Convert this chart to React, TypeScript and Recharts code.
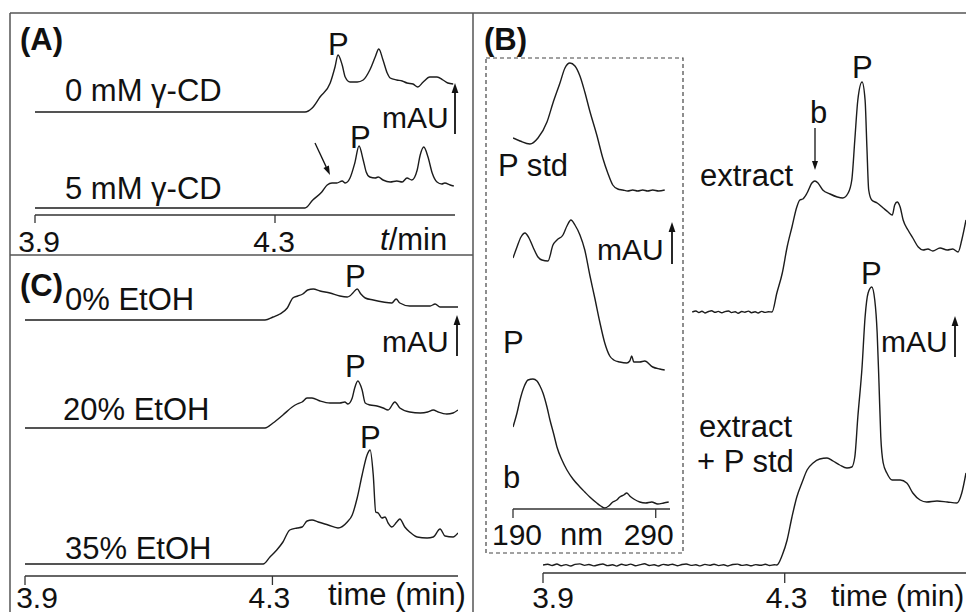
import { LineChart, Line, XAxis, YAxis } from "recharts";

const FONT = "'Liberation Sans', Arial, Helvetica, sans-serif";
const INK = "#1c1c1c";
const FRAME = "#555";

type Pair = [number, number];
type Pt = { t: number; v: number };
const toPts = (pairs: Pair[]): Pt[] => pairs.map(([t, v]) => ({ t, v }));

// ---- (A) gamma-CD, time (min) vs baseline-subtracted signal (a.u.)
const A_TICKS = [3.9, 4.3];
const A_0MM: Pair[] = [
  [3.9, 0], [4.35, 0], [4.362, 4], [4.375, 15], [4.392, 29], [4.4, 45], [4.405, 57], [4.412, 47],
  [4.417, 35], [4.425, 30], [4.437, 30], [4.447, 32], [4.458, 42], [4.467, 55], [4.473, 63], [4.48, 52],
  [4.487, 39], [4.492, 34], [4.503, 32], [4.512, 31], [4.52, 29], [4.53, 28], [4.538, 25], [4.547, 30],
  [4.558, 35], [4.57, 35], [4.58, 32], [4.588, 29], [4.597, 28],
];
const A_5MM: Pair[] = [
  [3.9, 0], [4.35, 0], [4.363, 8], [4.378, 16], [4.387, 23], [4.395, 25], [4.403, 25], [4.412, 27],
  [4.417, 25], [4.425, 30], [4.433, 45], [4.44, 62], [4.447, 48], [4.452, 36], [4.458, 31], [4.467, 30],
  [4.472, 31], [4.48, 28], [4.492, 26], [4.503, 27], [4.512, 26], [4.52, 30], [4.528, 28], [4.537, 38],
  [4.542, 53], [4.548, 61], [4.555, 51], [4.562, 35], [4.57, 26], [4.578, 24], [4.583, 25], [4.592, 23],
  [4.598, 22],
];

// ---- (C) EtOH
const C_TICKS = [3.9, 4.3];
const C_0: Pair[] = [
  [3.9, 0], [4.288, 0], [4.301, 3], [4.312, 6], [4.324, 12], [4.333, 22], [4.341, 24], [4.349, 26],
  [4.357, 30], [4.366, 31], [4.377, 29], [4.393, 27], [4.409, 24], [4.421, 23], [4.425, 24], [4.43, 27],
  [4.437, 31], [4.443, 26], [4.45, 22], [4.463, 20], [4.479, 18], [4.493, 17], [4.5, 21], [4.506, 17],
  [4.522, 14], [4.539, 14], [4.555, 14], [4.563, 16], [4.571, 13], [4.587, 13], [4.6, 13],
];
const C_20: Pair[] = [
  [3.9, 0], [4.288, 0], [4.301, 5], [4.317, 13], [4.332, 21], [4.34, 24], [4.348, 26], [4.356, 30],
  [4.364, 30], [4.377, 27], [4.393, 25], [4.409, 25], [4.417, 26], [4.422, 24], [4.429, 30], [4.433, 40],
  [4.438, 47], [4.445, 38], [4.45, 25], [4.458, 23], [4.469, 22], [4.479, 20], [4.487, 18], [4.498, 26],
  [4.506, 20], [4.522, 16], [4.539, 15], [4.551, 16], [4.56, 18], [4.568, 16], [4.582, 14], [4.592, 15],
  [4.6, 18],
];
const C_35: Pair[] = [
  [3.9, 0], [4.285, 0], [4.296, 7], [4.307, 14], [4.317, 22], [4.328, 34], [4.34, 36], [4.348, 37],
  [4.356, 43], [4.364, 44], [4.374, 42], [4.39, 39], [4.406, 36], [4.421, 42], [4.429, 49], [4.437, 66],
  [4.445, 89], [4.453, 109], [4.458, 114], [4.463, 89], [4.467, 52], [4.471, 51], [4.477, 46], [4.482, 47],
  [4.487, 41], [4.493, 37], [4.501, 42], [4.506, 45], [4.514, 37], [4.522, 32], [4.534, 27], [4.55, 26],
  [4.56, 27], [4.571, 35], [4.579, 28], [4.592, 27], [4.6, 31],
];

// ---- (B) extract / extract + P std
const B_TICKS = [3.9, 4.3];
const B_EXTRACT: Pair[] = [
  [4.147, 0], [4.153, 1], [4.158, -0.5], [4.163, 0.8], [4.168, -1], [4.174, 0.5], [4.179, 1.2],
  [4.185, -0.3], [4.19, 0.6], [4.196, -0.8], [4.201, 0.4], [4.207, 1], [4.212, -0.6], [4.218, 0.3],
  [4.223, -1.2], [4.229, 0.5], [4.234, -0.2], [4.24, 0.9], [4.245, -0.7], [4.251, 0.2], [4.256, -1],
  [4.262, 0.6], [4.267, -0.4], [4.273, 0.3], [4.279, 0],
  [4.287, 19], [4.296, 39], [4.304, 65], [4.312, 85], [4.32, 105], [4.325, 112], [4.33, 113],
  [4.337, 119], [4.345, 129], [4.35, 131], [4.355, 129], [4.363, 122], [4.375, 118], [4.387, 115],
  [4.396, 114], [4.405, 119], [4.411, 132], [4.416, 172], [4.421, 212], [4.428, 230], [4.433, 212],
  [4.436, 165], [4.439, 122], [4.444, 112], [4.453, 109], [4.463, 104], [4.471, 100], [4.478, 97],
  [4.482, 107], [4.486, 110], [4.491, 105], [4.496, 92], [4.504, 82], [4.512, 74], [4.521, 65],
  [4.529, 62], [4.537, 63], [4.545, 61], [4.557, 64], [4.569, 62], [4.578, 63], [4.587, 60],
  [4.593, 72], [4.6, 92],
];
const B_SPIKED: Pair[] = [
  [3.9, 0], [3.908, 0.8], [3.915, -0.5], [3.923, 1], [3.93, -0.7], [3.938, 0.4], [3.946, -1],
  [3.953, 0.6], [3.961, 1.1], [3.969, -0.4], [3.976, 0.5], [3.984, -0.9], [3.992, 0.3], [3.999, 1],
  [4.007, -0.6], [4.015, 0.2], [4.022, -1.1], [4.03, 0.7], [4.038, -0.3], [4.045, 0.9], [4.053, -0.8],
  [4.061, 0.4], [4.068, 1.2], [4.076, -0.5], [4.084, 0.3], [4.091, -1], [4.099, 0.6], [4.107, -0.2],
  [4.114, 0.8], [4.122, -0.7], [4.13, 0.5], [4.137, 1], [4.145, -0.4], [4.153, 0.2], [4.16, -0.9],
  [4.168, 0.6], [4.176, -0.3], [4.183, 0.8], [4.191, -0.6], [4.199, 0.3], [4.206, -1], [4.214, 0.5],
  [4.222, 0.9], [4.229, -0.4], [4.237, 0.2], [4.245, -0.8], [4.252, 0.4], [4.26, -0.3], [4.268, 0.7],
  [4.275, -0.5], [4.283, 0.2],
  [4.287, 0], [4.296, 10], [4.304, 25], [4.312, 48], [4.32, 68], [4.329, 83], [4.337, 95],
  [4.347, 102], [4.358, 106], [4.37, 107], [4.38, 104], [4.391, 100], [4.403, 97], [4.411, 98],
  [4.416, 108], [4.421, 148], [4.428, 198], [4.433, 248], [4.438, 272], [4.444, 278], [4.449, 265],
  [4.453, 232], [4.456, 182], [4.459, 128], [4.463, 102], [4.469, 92], [4.478, 85], [4.491, 85],
  [4.502, 82], [4.512, 72], [4.524, 65], [4.535, 63], [4.552, 64], [4.569, 63], [4.585, 62],
  [4.593, 72], [4.6, 92],
];

// ---- (B) inset: UV spectra, wavelength (nm) vs absorbance (a.u.)
const NM_TICKS = [190, 290];
const SPEC_PSTD: Pair[] = [
  [190, 53], [194.9, 50], [201.9, 47], [207.5, 53], [213.8, 69], [218, 88], [222.9, 108], [226.4, 123],
  [229.9, 128], [233.4, 125], [236.9, 115], [240.3, 99], [243.8, 80], [248.7, 56], [252.9, 33],
  [256.4, 18], [259.9, 6], [263.4, 2], [266.9, 1], [270.4, 0], [273.9, 1], [277.4, 0], [280.9, 1],
  [284.4, 0], [287.9, 1], [292, 0], [296.3, 1],
];
const SPEC_P: Pair[] = [
  [190, 112], [192.8, 123], [195.6, 133], [198.4, 137], [201.2, 132], [204, 123], [207.5, 113],
  [210.3, 110], [214.5, 109], [218, 125], [220.8, 130], [225, 135], [227.8, 144], [230.6, 150],
  [233.4, 145], [236.9, 135], [240.3, 120], [243.8, 95], [247.3, 72], [250.8, 48], [254.3, 27],
  [257.8, 14], [260.6, 10], [264.8, 8], [269.7, 7], [271.8, 9], [273.2, 14], [274.6, 8], [278.8, 8],
  [282.3, 9], [287.9, 3], [292.8, 1], [296.3, 0],
];
const SPEC_B: Pair[] = [
  [190, 81], [192.8, 95], [194.9, 108], [197.7, 121], [200.5, 128], [204, 129], [206.8, 127],
  [208.9, 122], [211, 115], [213.8, 101], [215.9, 88], [218.7, 73], [220.8, 61], [224.3, 48],
  [227.8, 38], [232, 29], [236.9, 21], [240.3, 16], [243.8, 11], [248.7, 5], [251.5, 2], [254.3, 0],
  [257.1, 2], [259.9, 6], [262.7, 8], [264.8, 11], [267.6, 13], [269.7, 15], [271.8, 12], [274.6, 9],
  [278.8, 6], [283, 5], [287.2, 6], [291.4, 4], [295.6, 5], [299.1, 6],
];

type Trace = { id: string; pairs: Pair[]; domain: [number, number] };
type PanelProps = {
  left: number; top: number; width: number; height: number; axisH: number;
  ml: number; mr: number;
  xDomain: [number, number]; ticks: number[];
  tickSize: number; tickMargin: number; shift: number[];
  traces: Trace[];
};

function makeTick(ticks: number[], shift: number[]) {
  return (props: any) => {
    const { x, y, payload } = props;
    const i = ticks.indexOf(payload.value);
    return (
      <text x={x + (shift[i] ?? 0)} y={y} dy={21.5} textAnchor="middle"
        fontSize={30} fontFamily={FONT} fill="#111">
        {payload.value}
      </text>
    );
  };
}

function Panel(p: PanelProps) {
  return (
    <div style={{ position: "absolute", left: p.left, top: p.top }}>
      <LineChart width={p.width} height={p.height}
        margin={{ top: 0, right: p.mr, bottom: 0, left: p.ml }}>
        <XAxis type="number" dataKey="t" domain={p.xDomain} ticks={p.ticks}
          allowDataOverflow height={p.axisH} interval={0}
          tickSize={p.tickSize} tickMargin={p.tickMargin}
          stroke="#333" strokeWidth={1.3}
          tick={makeTick(p.ticks, p.shift)} />
        {p.traces.map((tr) => (
          <YAxis key={tr.id} yAxisId={tr.id} hide type="number"
            domain={tr.domain} allowDataOverflow />
        ))}
        {p.traces.map((tr) => (
          <Line key={tr.id} yAxisId={tr.id} data={toPts(tr.pairs)} dataKey="v"
            type="monotone" stroke={INK} strokeWidth={1.4} dot={false}
            activeDot={false} isAnimationActive={false} />
        ))}
      </LineChart>
    </div>
  );
}

function Arrow({ x1, y1, x2, y2, w = 1.8, L = 10, H = 3.4 }: { x1: number; y1: number; x2: number; y2: number; w?: number; L?: number; H?: number }) {
  const a = Math.atan2(y2 - y1, x2 - x1);
  const bx = x2 - L * Math.cos(a), by = y2 - L * Math.sin(a);
  const px = -Math.sin(a) * H, py = Math.cos(a) * H;
  return (
    <g>
      <line x1={x1} y1={y1} x2={bx} y2={by} stroke="#111" strokeWidth={w} />
      <polygon points={`${x2},${y2} ${bx + px},${by + py} ${bx - px},${by - py}`} fill="#111" />
    </g>
  );
}

function T({ x, y, children, bold, size = 31 }: { x: number; y: number; children: any; bold?: boolean; size?: number }) {
  return (
    <text x={x} y={y} fontSize={size} fontFamily={FONT} fill="#111"
      fontWeight={bold ? 700 : 400}>
      {children}
    </text>
  );
}

export default function App() {
  return (
    <div style={{ position: "absolute", left: 0, top: 0, width: 966, height: 612, overflow: "hidden", background: "#fff" }}>
      {/* (A) */}
      <Panel left={5} top={30} width={480} height={235} axisH={50} ml={30} mr={30}
        xDomain={[3.9, 4.6]} ticks={A_TICKS} tickSize={8} tickMargin={7} shift={[4, -1]}
        traces={[
          { id: "a0", pairs: A_0MM, domain: [-103, 82] },
          { id: "a5", pairs: A_5MM, domain: [-7, 178] },
        ]} />
      {/* (C) */}
      <Panel left={5} top={265} width={473} height={351} axisH={40} ml={20} mr={20}
        xDomain={[3.9, 4.6]} ticks={C_TICKS} tickSize={9} tickMargin={1} shift={[12, -3]}
        traces={[
          { id: "c0", pairs: C_0, domain: [-256, 55] },
          { id: "c20", pairs: C_20, domain: [-148, 163] },
          { id: "c35", pairs: C_35, domain: [-12, 299] },
        ]} />
      {/* (B) chromatograms */}
      <Panel left={523} top={60} width={443} height={553} axisH={40} ml={20} mr={0}
        xDomain={[3.9, 4.6]} ticks={B_TICKS} tickSize={10} tickMargin={3} shift={[10, 2]}
        traces={[
          { id: "ext", pairs: B_EXTRACT, domain: [-261, 252] },
          { id: "spk", pairs: B_SPIKED, domain: [-8, 505] },
        ]} />
      {/* (B) inset spectra */}
      <Panel left={483} top={55} width={217} height={494} axisH={40} ml={30} mr={30}
        xDomain={[190, 300]} ticks={NM_TICKS} tickSize={9} tickMargin={5} shift={[4, -7]}
        traces={[
          { id: "pstd", pairs: SPEC_PSTD, domain: [-318, 136] },
          { id: "p", pairs: SPEC_P, domain: [-139, 315] },
          { id: "b", pairs: SPEC_B, domain: [-1, 453] },
        ]} />

      <svg width={966} height={612} style={{ position: "absolute", left: 0, top: 0, pointerEvents: "none" }}>
        {/* frame */}
        <line x1={10} y1={13} x2={966} y2={13} stroke={FRAME} strokeWidth={1.5} />
        <line x1={10} y1={13} x2={10} y2={612} stroke={FRAME} strokeWidth={1.5} />
        <line x1={473} y1={13} x2={473} y2={612} stroke={FRAME} strokeWidth={1.5} />
        <line x1={10} y1={255} x2={473} y2={255} stroke={FRAME} strokeWidth={1.5} />
        <rect x={486} y={58} width={197} height={495} fill="none" stroke="#444"
          strokeWidth={1.2} strokeDasharray="4 3" />

        {/* (A) labels */}
        <T x={20} y={50} bold>(A)</T>
        <T x={65} y={101}>0 mM γ-CD</T>
        <T x={65} y={199}>5 mM γ-CD</T>
        <T x={328} y={55}>P</T>
        <T x={350} y={148}>P</T>
        <T x={382} y={128} size={30}>mAU</T>
        <Arrow x1={455} y1={134} x2={455} y2={83} />
        <Arrow x1={315} y1={143} x2={330} y2={175} w={1.3} L={9} H={3} />
        <T x={380} y={250}><tspan fontStyle="italic">t</tspan>/min</T>

        {/* (C) labels */}
        <T x={20} y={296} bold>(C)</T>
        <T x={65} y={310}>0% EtOH</T>
        <T x={63} y={420}>20% EtOH</T>
        <T x={65} y={559}>35% EtOH</T>
        <T x={345} y={287}>P</T>
        <T x={345} y={377}>P</T>
        <T x={360} y={448}>P</T>
        <T x={382} y={352} size={30}>mAU</T>
        <Arrow x1={457} y1={356} x2={457} y2={315} />
        <T x={328} y={605}>time (min)</T>

        {/* (B) labels */}
        <T x={484} y={50} bold>(B)</T>
        <T x={498} y={176}>P std</T>
        <T x={503} y={353}>P</T>
        <T x={503} y={488}>b</T>
        <T x={597} y={260} size={30}>mAU</T>
        <Arrow x1={672} y1={264} x2={672} y2={222} />
        <T x={560} y={545}>nm</T>
        <T x={700} y={186}>extract</T>
        <T x={810} y={123}>b</T>
        <Arrow x1={815} y1={128} x2={815} y2={170} w={1.3} L={9} H={3} />
        <T x={852} y={78}>P</T>
        <T x={861} y={284}>P</T>
        <T x={881} y={352} size={30}>mAU</T>
        <Arrow x1={955} y1={357} x2={955} y2={316} />
        <T x={699} y={437}>extract</T>
        <T x={697} y={472}>+ P std</T>
        <T x={831} y={606} size={30}>time (min)</T>
      </svg>
    </div>
  );
}
